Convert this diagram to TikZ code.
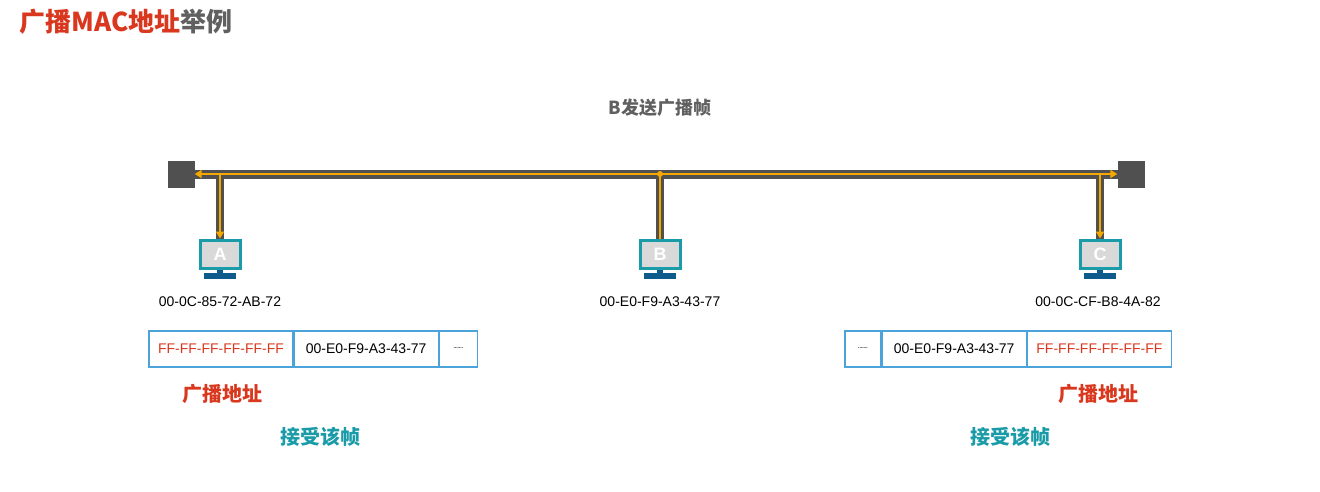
\documentclass[tikz,border=0pt]{standalone}
\usepackage{fontspec}
\setmainfont{Liberation Sans}
\newfontfamily\cjk{Noto Sans CJK SC}
\usetikzlibrary{arrows.meta}
\definecolor{tred}{HTML}{D9381E}
\definecolor{tgray}{HTML}{606060}
\definecolor{tteal}{HTML}{1A9BA8}
\definecolor{tblue}{HTML}{4BA3D9}
\definecolor{torange}{HTML}{F5A800}
\definecolor{bus}{HTML}{505050}
\definecolor{standblue}{HTML}{0F5C8C}
\tikzset{
  endsq/.style={fill=bus,minimum width=27pt,minimum height=27pt,inner sep=0pt},
  mac/.style={font=\fontsize{14}{14}\selectfont,text=black},
  cell/.style={draw=tblue,line width=1.2pt,minimum height=36pt,inner sep=0pt,font=\fontsize{14}{14}\selectfont},
  lab/.style={font=\cjk\bfseries\fontsize{20}{20}\selectfont},
  orangearrow/.style={torange,line width=2.5pt,-{Triangle[length=7pt,width=8pt]}},
}
\newcommand{\monitor}[3]{%
  \fill[standblue] (#1-3,#2+14) rectangle (#1+3,#2+20);
  \fill[standblue] (#1-16,#2+19) rectangle (#1+16,#2+25);
  \node[draw=tteal,line width=3pt,fill=gray!30,minimum width=40pt,minimum height=28pt,inner sep=0pt,
     text=white,font=\bfseries\fontsize{18}{18}\selectfont] (#3) at (#1,#2) {#3};
}
\begin{document}
\begin{tikzpicture}[x=1pt,y=-1pt]
\useasboundingbox (0,0) rectangle (1320,491);
\node[anchor=west,font=\cjk\bfseries\fontsize{26}{26}\selectfont] (title) at (16,22) {\textcolor{tred}{广播MAC地址}\textcolor{tgray}{举例}};
\node[font=\cjk\bfseries\fontsize{18}{18}\selectfont,text=tgray] (btitle) at (660,108) {B发送广播帧};
% bus
\node[endsq] (L) at (181,174) {};
\node[endsq] (R) at (1131,174) {};
\draw[bus,line width=9pt] (L.center) -- (R.center);
\coordinate (ja) at (220,174); \coordinate (jb) at (660,174); \coordinate (jc) at (1100,174);
\monitor{220}{254}{A}
\monitor{660}{254}{B}
\monitor{1100}{254}{C}
\draw[bus,line width=8pt] (ja) -- (A.north);
\draw[bus,line width=8pt] (jb) -- (B.north);
\draw[bus,line width=8pt] (jc) -- (C.north);
\draw[orangearrow] (jb) -- (L.east);
\draw[orangearrow] (jb) -- (R.west);
\draw[orangearrow] (ja) -- (A.north);
\draw[orangearrow] (jc) -- (C.north);
\draw[torange,line width=2.5pt] (jb) -- (B.north);
\fill[torange] (jb) circle (3);
\node[mac] (ma) at (220,302) {00-0C-85-72-AB-72};
\node[mac] (mb) at (660,302) {00-E0-F9-A3-43-77};
\node[mac] (mc) at (1098,302) {00-0C-CF-B8-4A-82};
% frames
\node[cell,minimum width=144pt,text=tred] (f1) at (221,349) {FF-FF-FF-FF-FF-FF};
\node[cell,minimum width=144pt,anchor=west] (f2) at (f1.east) {00-E0-F9-A3-43-77};
\node[cell,minimum width=38pt,anchor=west] (f3) at (f2.east) {\raisebox{1pt}{\tiny\textbf{.......}}};
\node[cell,minimum width=36pt] (g1) at (863,349) {\raisebox{1pt}{\tiny\textbf{.......}}};
\node[cell,minimum width=144pt,anchor=west] (g2) at (g1.east) {00-E0-F9-A3-43-77};
\node[cell,minimum width=144pt,anchor=west,text=tred] (g3) at (g2.east) {FF-FF-FF-FF-FF-FF};
\node[lab,text=tred] (b1) at (222,394) {广播地址};
\node[lab,text=tred] (b2) at (1098,394) {广播地址};
\node[lab,text=tteal] (r1) at (320,437) {接受该帧};
\node[lab,text=tteal] (r2) at (1010,437) {接受该帧};
\end{tikzpicture}
\end{document}
